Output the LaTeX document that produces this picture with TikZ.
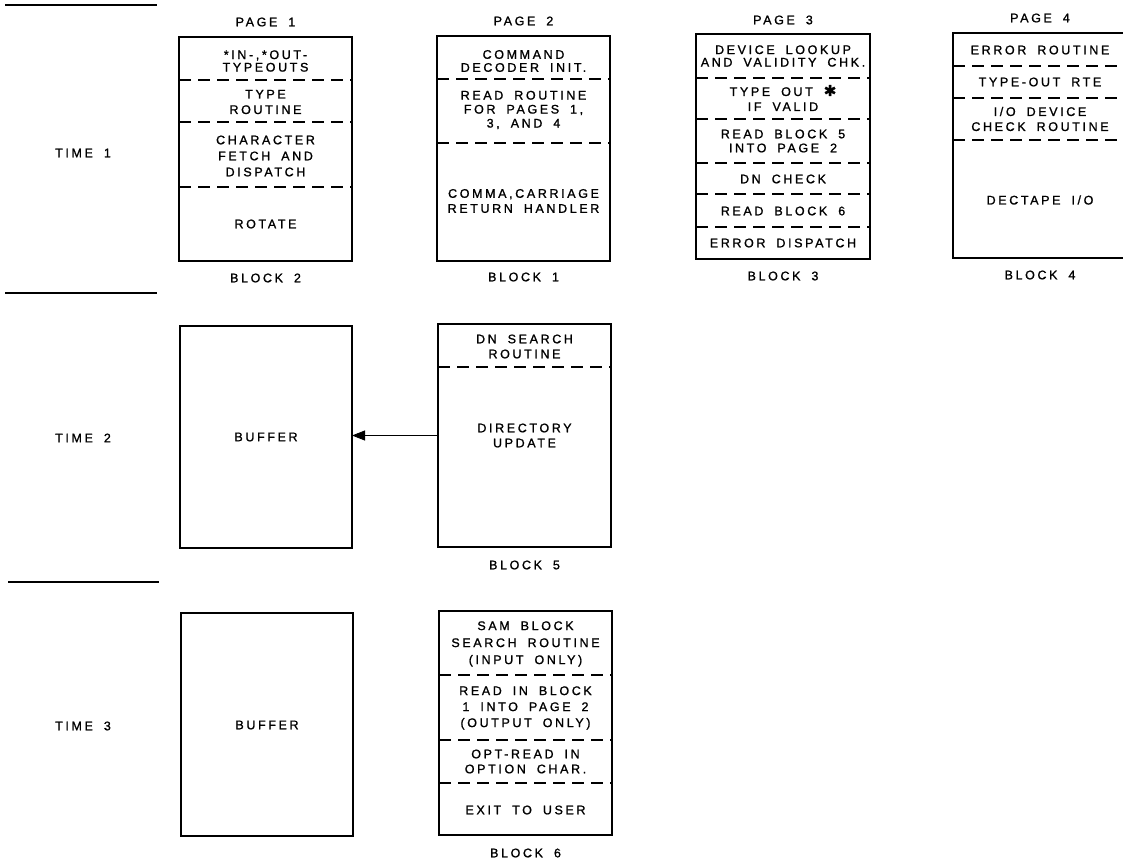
\documentclass[tikz,border=0pt]{standalone}
\usepackage{fontspec}
\setmainfont{Liberation Sans}[LetterSpace=21,WordSpace=1.8,FakeBold=1.2]
\newfontfamily\symfont{DejaVu Sans}[FakeBold=1.2]
\usetikzlibrary{arrows.meta}
\tikzset{
  blk/.style={draw, line width=1.5pt, inner sep=0pt, outer sep=0pt},
  div/.style={line width=1.5pt, dash pattern=on 12pt off 7pt},
  txt/.style={align=center, inner sep=0pt, font=\fontsize{12.5}{14}\selectfont},
  ls/.style={font=\fontsize{12.5}{#1}\selectfont},
  hrule/.style={line width=1.2pt},
  conn/.style={line width=0.9pt, -{Triangle[length=13pt,width=10pt]}},
}
\begin{document}
\begin{tikzpicture}[x=1pt,y=-1pt]
\useasboundingbox (0,0) rectangle (1123,867);
% separating rules
\draw[hrule] (5,5) -- (157,5);
\draw[hrule] (5,293) -- (157,293);
\draw[hrule] (8,582) -- (159,582);
% time labels
\node[txt] (t1) at (83,153) {TIME 1};
\node[txt] (t2) at (83,438) {TIME 2};
\node[txt] (t3) at (83,726) {TIME 3};
% ---------- PAGE 1 / BLOCK 2
\node[txt] (p1) at (265.5,22) {PAGE 1};
\node[blk, minimum width=173pt, minimum height=224pt] (b2) at (265.5,149) {};
\draw[div] (b2.west |- 0,80) -- (b2.east |- 0,80);
\draw[div] (b2.west |- 0,122) -- (b2.east |- 0,122);
\draw[div] (b2.west |- 0,187) -- (b2.east |- 0,187);
\node[txt, ls=12.5] (b2a) at (265.5,61) {*IN-,*OUT-\\TYPEOUTS};
\node[txt, ls=15.5] (b2b) at (265.5,102) {TYPE\\ROUTINE};
\node[txt, ls=16] (b2c) at (265.5,156) {CHARACTER\\FETCH AND\\DISPATCH};
\node[txt] (b2d) at (265.5,224) {ROTATE};
\node[txt] (l2) at (265.5,278) {BLOCK 2};
% ---------- PAGE 2 / BLOCK 1
\node[txt] (p2) at (523.5,21) {PAGE 2};
\node[blk, minimum width=173pt, minimum height=225pt] (b1) at (523.5,148.5) {};
\draw[div] (b1.west |- 0,79) -- (b1.east |- 0,79);
\draw[div] (b1.west |- 0,143) -- (b1.east |- 0,143);
\node[txt, ls=13] (b1a) at (523.5,61) {COMMAND\\DECODER INIT.};
\node[txt, ls=14] (b1b) at (523.5,110) {READ ROUTINE\\FOR PAGES 1,\\3, AND 4};
\node[txt, ls=15] (b1c) at (523.5,201) {COMMA,CARRIAGE\\RETURN HANDLER};
\node[txt] (l1) at (523.5,277) {BLOCK 1};
% ---------- PAGE 3 / BLOCK 3
\node[txt] (p3) at (783,20) {PAGE 3};
\node[blk, minimum width=174pt, minimum height=225pt] (b3) at (783,146.5) {};
\draw[div] (b3.west |- 0,78) -- (b3.east |- 0,78);
\draw[div] (b3.west |- 0,119) -- (b3.east |- 0,119);
\draw[div] (b3.west |- 0,163) -- (b3.east |- 0,163);
\draw[div] (b3.west |- 0,194) -- (b3.east |- 0,194);
\draw[div] (b3.west |- 0,227) -- (b3.east |- 0,227);
\node[txt, ls=12.5] (b3a) at (783,56) {DEVICE LOOKUP\\AND VALIDITY CHK.};
\node[txt, ls=15] (b3b) at (783,98) {TYPE OUT {\symfont\fontsize{15}{15}\selectfont ✱}\\IF VALID};
\node[txt, ls=14] (b3c) at (783,141) {READ BLOCK 5\\INTO PAGE 2};
\node[txt] (b3d) at (783,179) {DN CHECK};
\node[txt] (b3e) at (783,211) {READ BLOCK 6};
\node[txt] (b3f) at (783,243) {ERROR DISPATCH};
\node[txt] (l3) at (783,276) {BLOCK 3};
% ---------- PAGE 4 / BLOCK 4
\node[txt] (p4) at (1040,18) {PAGE 4};
\node[blk, minimum width=174pt, minimum height=225pt] (b4) at (1040,145.5) {};
\draw[div] (b4.west |- 0,66) -- (b4.east |- 0,66);
\draw[div] (b4.west |- 0,98) -- (b4.east |- 0,98);
\draw[div] (b4.west |- 0,140) -- (b4.east |- 0,140);
\node[txt] (b4a) at (1040,50) {ERROR ROUTINE};
\node[txt] (b4b) at (1040,82) {TYPE-OUT RTE};
\node[txt, ls=15] (b4c) at (1040,119) {I/O DEVICE\\CHECK ROUTINE};
\node[txt] (b4d) at (1040,200) {DECTAPE I/O};
\node[txt] (l4) at (1040,275) {BLOCK 4};
% ---------- TIME 2
\node[blk, minimum width=172pt, minimum height=222pt] (buf2) at (266,437) {};
\node[txt] (buf2t) at (266,437) {BUFFER};
\node[blk, minimum width=173pt, minimum height=223pt] (b5) at (524.5,435.5) {};
\draw[div] (b5.west |- 0,367) -- (b5.east |- 0,367);
\node[txt, ls=15] (b5a) at (524.5,346.5) {DN SEARCH\\ROUTINE};
\node[txt, ls=15] (b5b) at (524.5,435.5) {DIRECTORY\\UPDATE};
\node[txt] (l5) at (524.5,565) {BLOCK 5};
\draw[conn] (b5.west) -- (buf2.east |- b5.west);
% ---------- TIME 3
\node[blk, minimum width=172pt, minimum height=223pt] (buf3) at (267,724.5) {};
\node[txt] (buf3t) at (267,725) {BUFFER};
\node[blk, minimum width=173pt, minimum height=224pt] (b6) at (525.5,723) {};
\draw[div] (b6.west |- 0,675) -- (b6.east |- 0,675);
\draw[div] (b6.west |- 0,740) -- (b6.east |- 0,740);
\draw[div] (b6.west |- 0,783) -- (b6.east |- 0,783);
\node[txt, ls=17] (b6a) at (525.5,644) {SAM BLOCK\\SEARCH ROUTINE\\(INPUT ONLY)};
\node[txt, ls=16] (b6b) at (525.5,708) {READ IN BLOCK\\1 INTO PAGE 2\\(OUTPUT ONLY)};
\node[txt, ls=15] (b6c) at (525.5,761.5) {OPT-READ IN\\OPTION CHAR.};
\node[txt] (b6d) at (525.5,810) {EXIT TO USER};
\node[txt] (l6) at (525.5,853) {BLOCK 6};
\end{tikzpicture}
\end{document}
